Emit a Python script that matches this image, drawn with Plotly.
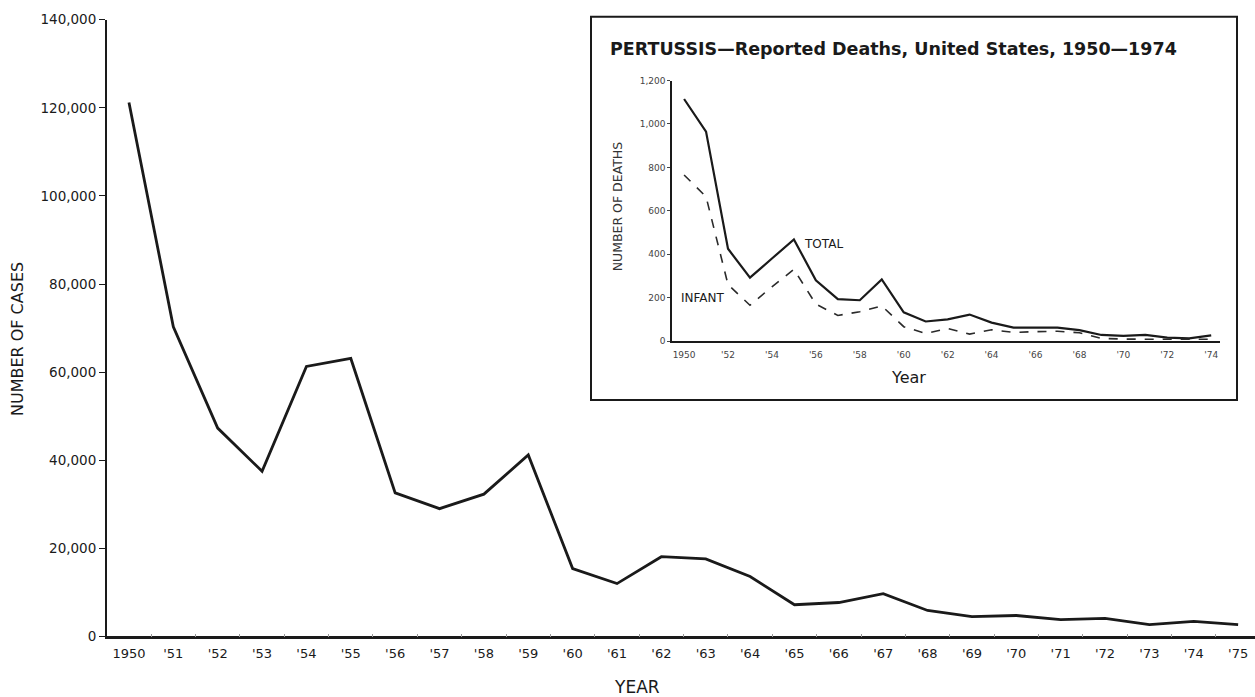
import plotly.graph_objects as go

W, H = 1255, 697

# Main chart: reported pertussis cases
years = list(range(1950, 1976))
cases = [121200, 70300, 47300, 37500, 61300, 63100, 32600, 29000, 32300, 41200,
         15400, 12000, 18100, 17600, 13600, 7200, 7700, 9700, 5900, 4500,
         4750, 3800, 4100, 2700, 3400, 2700]
year_labels = ["1950"] + ["'" + str(y)[2:] for y in years[1:]]
y_ticks = [0, 20000, 40000, 60000, 80000, 100000, 120000, 140000]

# Inset: reported deaths
inset_years = list(range(1950, 1975))
total_deaths = [1115, 965, 425, 292, 380, 468, 280, 193, 188, 284,
                132, 90, 100, 122, 85, 62, 62, 62, 50, 28,
                24, 28, 16, 12, 26]
infant_deaths = [765, 665, 260, 165, 250, 330, 170, 118, 135, 162,
                 66, 35, 58, 32, 52, 40, 43, 45, 38, 12,
                 9, 10, 8, 8, 8]
inset_tickvals = list(range(1950, 1975, 2))
inset_ticktext = ["1950"] + ["'" + str(y)[2:] for y in inset_tickvals[1:]]
inset_yticks = [0, 200, 400, 600, 800, 1000, 1200]


def px_x(p):
    return p / W


def px_y(p):
    q = (p - 6.3) / 0.979
    return (H - q) / H


FONT = "DejaVu Sans"
INK = "#1a1a1a"

fig = go.Figure()

fig.add_trace(go.Scatter(x=years, y=cases, mode="lines",
                         line=dict(color=INK, width=2.8),
                         xaxis="x", yaxis="y", showlegend=False,
                         hoverinfo="skip"))

fig.add_trace(go.Scatter(x=inset_years, y=total_deaths, mode="lines",
                         line=dict(color=INK, width=2.2),
                         xaxis="x2", yaxis="y2", showlegend=False,
                         hoverinfo="skip"))
fig.add_trace(go.Scatter(x=inset_years, y=infant_deaths, mode="lines",
                         line=dict(color="#2a2a2a", width=1.6, dash="dash"),
                         xaxis="x2", yaxis="y2", showlegend=False,
                         hoverinfo="skip"))

fig.update_layout(
    width=W, height=H,
    margin=dict(l=0, r=0, t=0, b=0),
    paper_bgcolor="white", plot_bgcolor="rgba(0,0,0,0)",
    font=dict(family=FONT, color=INK),
    xaxis=dict(
        domain=[px_x(107), 1.0], anchor="y",
        range=[1949.505, 1975.38],
        tickmode="array", tickvals=years, ticktext=year_labels,
        ticks="", showgrid=False, zeroline=False,
        showline=True, linecolor=INK, linewidth=2.5,
        tickfont=dict(size=13, color=INK),
        ticklabelstandoff=3,
        minor=dict(tick0=1950.5, dtick=1, ticks="inside", ticklen=3,
                   tickcolor="#999", tickwidth=1, showgrid=False),
    ),
    yaxis=dict(
        domain=[px_y(636), px_y(18)], anchor="x",
        range=[0, 140000],
        tickmode="array", tickvals=y_ticks, tickformat=",",
        ticks="outside", ticklen=6, tickcolor=INK, tickwidth=1,
        showgrid=False, zeroline=False,
        showline=True, linecolor=INK, linewidth=2,
        tickfont=dict(size=13.5, color=INK),
    ),
    xaxis2=dict(
        domain=[px_x(672), px_x(1220)], anchor="y2",
        range=[1949.45, 1974.4],
        tickmode="array", tickvals=inset_tickvals, ticktext=inset_ticktext,
        ticks="", showgrid=False, zeroline=False,
        showline=True, linecolor=INK, linewidth=1.5,
        tickfont=dict(size=9, color="#444"),
        ticklabelstandoff=4,
    ),
    yaxis2=dict(
        domain=[px_y(340), px_y(79)], anchor="x2",
        range=[0, 1200],
        tickmode="array", tickvals=inset_yticks, tickformat=",",
        ticks="outside", ticklen=3, tickcolor="#444", tickwidth=1,
        showgrid=False, zeroline=False,
        showline=True, linecolor=INK, linewidth=1.5,
        tickfont=dict(size=9, color="#444"),
    ),
    shapes=[
        dict(type="rect", xref="paper", yref="paper",
             x0=px_x(591), x1=px_x(1237), y0=px_y(399), y1=px_y(15),
             line=dict(color=INK, width=2), fillcolor="rgba(0,0,0,0)",
             layer="above"),
    ],
    annotations=[
        dict(text="YEAR", xref="paper", yref="paper",
             x=px_x(637), y=px_y(687), xanchor="center", yanchor="middle",
             showarrow=False, font=dict(size=17, color=INK)),
        dict(text="NUMBER OF CASES", xref="paper", yref="paper",
             x=px_x(17), y=px_y(338), xanchor="center", yanchor="middle",
             textangle=-90, showarrow=False, font=dict(size=16, color=INK)),
        dict(text="<b>PERTUSSIS—Reported Deaths, United States, 1950—1974</b>",
             xref="paper", yref="paper",
             x=px_x(608), y=px_y(47), xanchor="left", yanchor="middle",
             showarrow=False, font=dict(size=17.5, color=INK)),
        dict(text="NUMBER OF DEATHS", xref="paper", yref="paper",
             x=px_x(617), y=px_y(205), xanchor="center", yanchor="middle",
             textangle=-90, showarrow=False, font=dict(size=12.5, color="#333")),
        dict(text="Year", xref="paper", yref="paper",
             x=px_x(908), y=px_y(377), xanchor="center", yanchor="middle",
             showarrow=False, font=dict(size=16, color=INK)),
        dict(text="TOTAL", xref="paper", yref="paper",
             x=px_x(823), y=px_y(243), xanchor="center", yanchor="middle",
             showarrow=False, font=dict(size=12, color=INK)),
        dict(text="INFANT", xref="paper", yref="paper",
             x=px_x(703), y=px_y(297), xanchor="center", yanchor="middle",
             showarrow=False, font=dict(size=12, color=INK)),
    ],
)

fig.write_html(
    "out.html",
    config={"displayModeBar": False},
    post_script="document.body.style.margin='0';document.body.style.padding='0';"
                "document.documentElement.style.overflow='hidden';",
)
